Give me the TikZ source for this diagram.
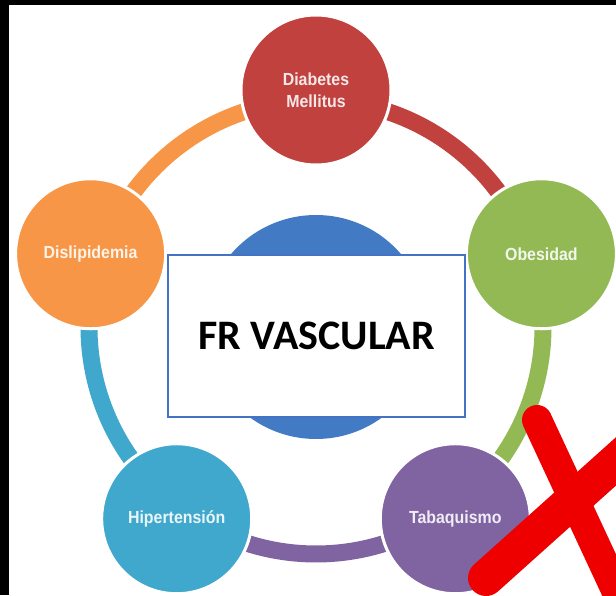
\documentclass[tikz,border=0pt]{standalone}
\usepackage{fontspec}
\setmainfont{Liberation Sans}
\newfontfamily\lblfont[FakeStretch=0.91]{Liberation Sans}
\newfontfamily\titlefont{Carlito}
\definecolor{dmred}{RGB}{192,65,62}
\definecolor{obgreen}{RGB}{146,185,84}
\definecolor{tbpurple}{RGB}{128,100,162}
\definecolor{htteal}{RGB}{64,168,204}
\definecolor{dlorange}{RGB}{247,150,70}
\definecolor{coreblue}{RGB}{66,122,196}
\definecolor{boxblue}{RGB}{68,114,196}
\definecolor{xred}{RGB}{238,0,0}
\begin{document}
\begin{tikzpicture}[x=1pt,y=1pt,
  factor/.style={circle, minimum size=150pt, inner sep=0pt, draw=white, line width=3pt,
    font=\lblfont\bfseries\fontsize{17.5}{22}\selectfont, align=center},
  ringseg/.style={line width=17pt},
  xstroke/.style={draw=xred, line cap=round}
]
\useasboundingbox (0,0) rectangle (616,595);
\fill[white] (0,0) rectangle (616,595);
\fill[black] (0,590) rectangle (616,595);
\fill[black] (0,0) rectangle (8.7,595);

\coordinate (C) at (316,268);

% ring segments
\draw[ringseg, dmred]    ([shift={(90:227)}]C)  arc[start angle=90,  end angle=18,   radius=227];
\draw[ringseg, obgreen]  ([shift={(18:227)}]C)  arc[start angle=18,  end angle=-54,  radius=227];
\draw[ringseg, tbpurple] ([shift={(-54:227)}]C) arc[start angle=-54, end angle=-126, radius=227];
\draw[ringseg, htteal]   ([shift={(234:227)}]C) arc[start angle=234, end angle=162,  radius=227];
\draw[ringseg, dlorange] ([shift={(162:227)}]C) arc[start angle=162, end angle=90,   radius=227];

% central circle
\node[circle, fill=coreblue, minimum size=224pt, inner sep=0pt] (core) at (C) {};

% factor circles
\node[factor, fill=dmred,    text=white!88!dmred]    (dm) at ([shift={(90:237)}]C)  {Diabetes\\Mellitus};
\node[factor, fill=obgreen,  text=white!88!obgreen]  (ob) at ([shift={(18:237)}]C)  {Obesidad};
\node[factor, fill=tbpurple, text=white!88!tbpurple] (tb) at ([shift={(-54:237)}]C) {Tabaquismo};
\node[factor, fill=htteal,   text=white!88!htteal]   (ht) at ([shift={(234:237)}]C) {Hipertensión};
\node[factor, fill=dlorange, text=white!88!dlorange] (dl) at ([shift={(162:237)}]C) {Dislipidemia};

% title box
\node[draw=boxblue, line width=1.5pt, fill=white, minimum width=297pt, minimum height=162pt,
      inner sep=0pt, font=\titlefont\bfseries\fontsize{42}{50}\selectfont] (fr) at (316.5,259) {FR VASCULAR};

% red cross
\begin{scope}
\clip (0,0) rectangle (616,595);
\draw[xstroke, line width=30pt] (537,175) -- (650,-68);
\draw[xstroke, line width=36pt] (486,17) -- (690,200);
\end{scope}
\end{tikzpicture}
\end{document}
